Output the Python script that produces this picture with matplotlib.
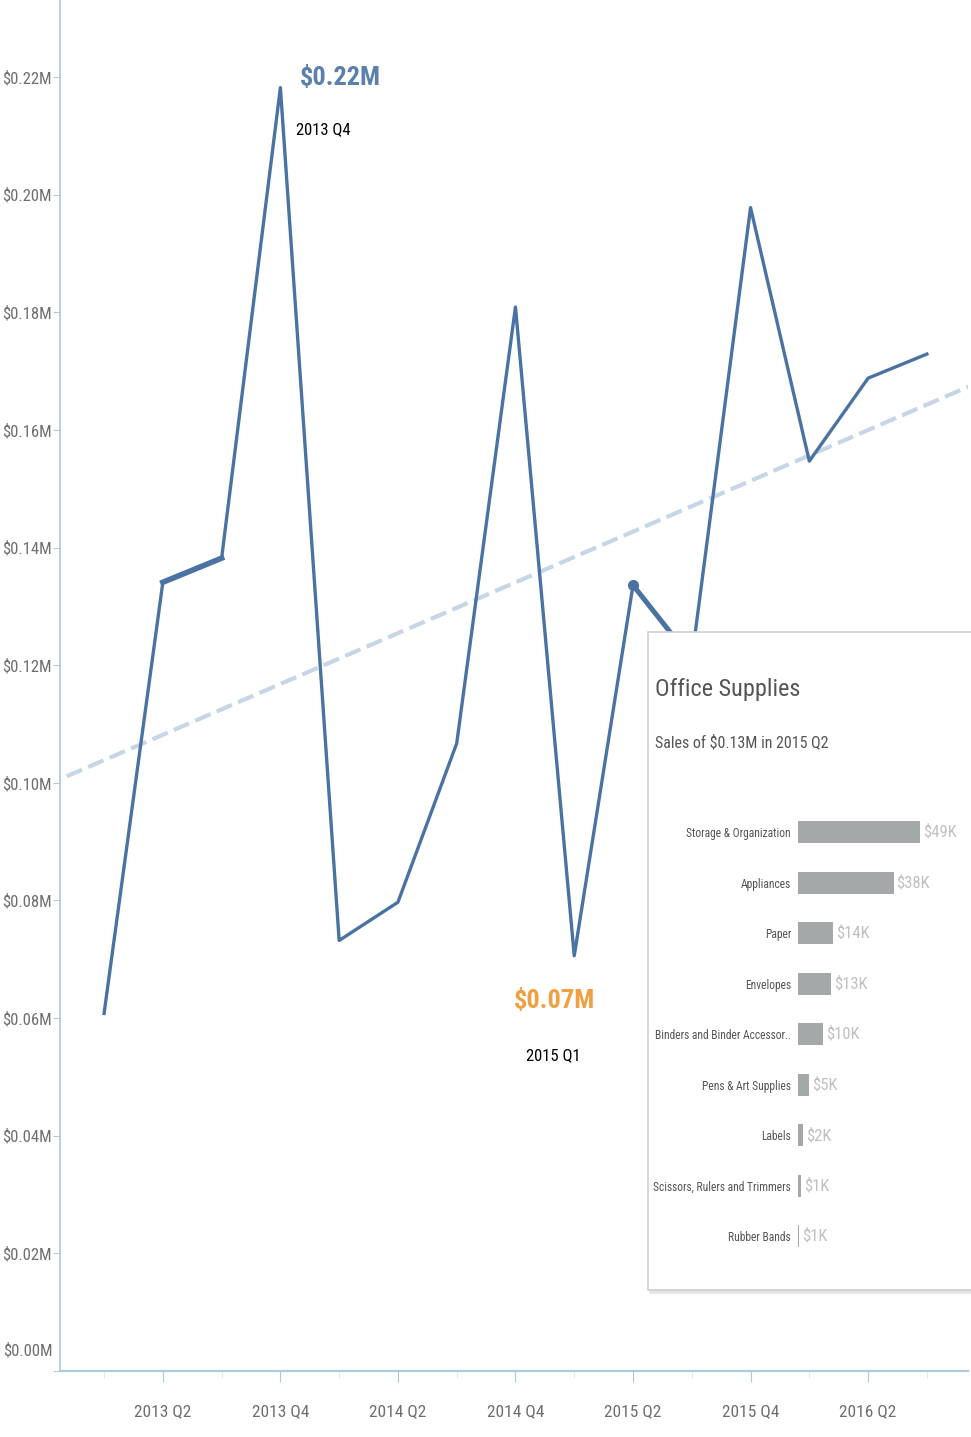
import matplotlib.pyplot as plt
import numpy as np
from matplotlib.patches import Rectangle
from matplotlib.ticker import FuncFormatter

plt.rcParams['font.family'] = ['Roboto Condensed', 'Liberation Sans Narrow', 'Roboto', 'DejaVu Sans']

# quarterly sales, 2013 Q1 .. 2016 Q3 (in $M)
quarters = ['2013 Q1', '2013 Q2', '2013 Q3', '2013 Q4', '2014 Q1', '2014 Q2', '2014 Q3', '2014 Q4',
            '2015 Q1', '2015 Q2', '2015 Q3', '2015 Q4', '2016 Q1', '2016 Q2', '2016 Q3']
sales = [0.0608, 0.1341, 0.1382, 0.2182, 0.0732, 0.0797, 0.1067, 0.1809,
         0.0706, 0.1336, 0.1210, 0.1978, 0.1547, 0.1688, 0.1729]
hi_idx = 3   # 2013 Q4 callout
lo_idx = 8   # 2015 Q1 callout
hover_idx = 9  # 2015 Q2 tooltip

# tooltip breakdown for 2015 Q2 (in $K)
sub_cats = ['Storage & Organization', 'Appliances', 'Paper', 'Envelopes', 'Binders and Binder Accessor..',
            'Pens & Art Supplies', 'Labels', 'Scissors, Rulers and Trimmers', 'Rubber Bands']
sub_sales = [49.0, 38.5, 14.0, 13.2, 10.0, 4.5, 2.0, 1.2, 0.6]
sub_labels = ['$49K', '$38K', '$14K', '$13K', '$10K', '$5K', '$2K', '$1K', '$1K']

line_col = '#4a72a3'
axis_col = '#aac8de'
tick_txt = '#6e6e6e'

fig = plt.figure(figsize=(9.71, 14.37), dpi=100)
ax = fig.add_axes([60 / 971, 66 / 1437, 908 / 971, 1371 / 1437])

x = np.arange(len(sales))
ax.plot(x, sales, color=line_col, lw=2.4, zorder=3)
# hovered segments drawn a bit heavier
ax.plot(x[1:3], sales[1:3], color=line_col, lw=4, zorder=3)
ax.plot(x[9:11], sales[9:11], color=line_col, lw=3.6, zorder=3)
ax.plot(x[hover_idx], sales[hover_idx], 'o', color=line_col, ms=7, zorder=4)

# linear trend
k, b = np.polyfit(x, sales, 1)
tx = np.array([-1, 16])
ax.plot(tx, k * tx + b, color='#c6d6e6', lw=3, ls=(0, (4, 1.6)), zorder=2)

ax.set_xlim(-0.75, 14.7)
ax.set_ylim(0, 0.2331)

for s in ['top', 'right']:
    ax.spines[s].set_visible(False)
ax.spines['left'].set_color(axis_col)
ax.spines['bottom'].set_color(axis_col)
ax.spines['left'].set_linewidth(1.2)
ax.spines['bottom'].set_linewidth(1.5)

ax.set_xticks(x[1::2])
ax.set_xticklabels(quarters[1::2])
ax.set_xticks(x[0::2], minor=True)
ax.tick_params(axis='x', which='major', length=8, color=axis_col, labelcolor=tick_txt,
               labelsize=12.5, pad=16)
ax.tick_params(axis='x', which='minor', length=5, color='#e4e4e4')

yt = np.arange(0, 0.221, 0.02)
ax.set_yticks(yt)
ax.yaxis.set_major_formatter(FuncFormatter(lambda v, p: '' if v == 0 else '$%.2fM' % v))
ax.tick_params(axis='y', length=5, color='#b8c8d4', labelcolor=tick_txt, labelsize=12, pad=1)
ax.text(-0.008, 0.0022, '$0.00M', transform=ax.get_yaxis_transform(), ha='right', va='bottom',
        color=tick_txt, fontsize=12)

# max / min callouts
ax.annotate('$%.2fM' % sales[hi_idx], (hi_idx, sales[hi_idx]), xytext=(19, 10), textcoords='offset pixels',
            ha='left', va='center', fontsize=19, color='#5b80ae', fontweight='bold')
ax.annotate(quarters[hi_idx], (hi_idx, sales[hi_idx]), xytext=(16, -42), textcoords='offset pixels',
            ha='left', va='center', fontsize=12, color='black')
ax.annotate('$%.2fM' % sales[lo_idx], (lo_idx, sales[lo_idx]), xytext=(-20, -45), textcoords='offset pixels',
            ha='center', va='center', fontsize=19, color='#f0a040', fontweight='bold')
ax.annotate(quarters[lo_idx], (lo_idx, sales[lo_idx]), xytext=(-21, -100), textcoords='offset pixels',
            ha='center', va='center', fontsize=12, color='black')

# tooltip panel
pl, pb, pt = 648 / 971, 147 / 1437, 805 / 1437
for i, a in enumerate([0.05, 0.07, 0.10]):
    d = (3 - i) / 1437
    ax.add_patch(Rectangle((pl + 1 / 971, pb - d - 2 / 1437), 0.5, pt - pb, transform=fig.transFigure,
                           facecolor='#808080', edgecolor='none', alpha=a, zorder=9, clip_on=False))
ax.add_patch(Rectangle((pl, pb), 0.5, pt - pb, transform=fig.transFigure, facecolor='white',
                       edgecolor='#d0d0d0', lw=1.2, zorder=10, clip_on=False))
fig.text(655 / 971, 1 - 690 / 1437, 'Office Supplies', fontsize=17.5, color='#555555', va='center', ha='left')
fig.text(655 / 971, 1 - 742 / 1437, 'Sales of $%.2fM in %s' % (sales[hover_idx], quarters[hover_idx]),
         fontsize=11.5, color='#555555', va='center', ha='left')

bx = fig.add_axes([798 / 971, (1437 - 1261.5) / 1437, 149 / 971, 454.5 / 1437])
bx.patch.set_alpha(0)
yy = np.arange(len(sub_cats))
bx.barh(yy, sub_sales, height=0.44, color='#a5a8a8')
bx.set_xlim(0, 60)
bx.set_ylim(len(sub_cats) - 0.5, -0.5)
bx.set_yticks(yy)
bx.set_yticklabels(sub_cats)
bx.tick_params(axis='y', length=0, pad=5, labelsize=8.3, labelcolor='#555555')
bx.set_xticks([])
for s in bx.spines.values():
    s.set_visible(False)
for i, v in enumerate(sub_sales):
    bx.text(v + 1.2, i, sub_labels[i], va='center', ha='left', fontsize=12, color='#c0c0c0')

fig.savefig('out.png', dpi=100)
